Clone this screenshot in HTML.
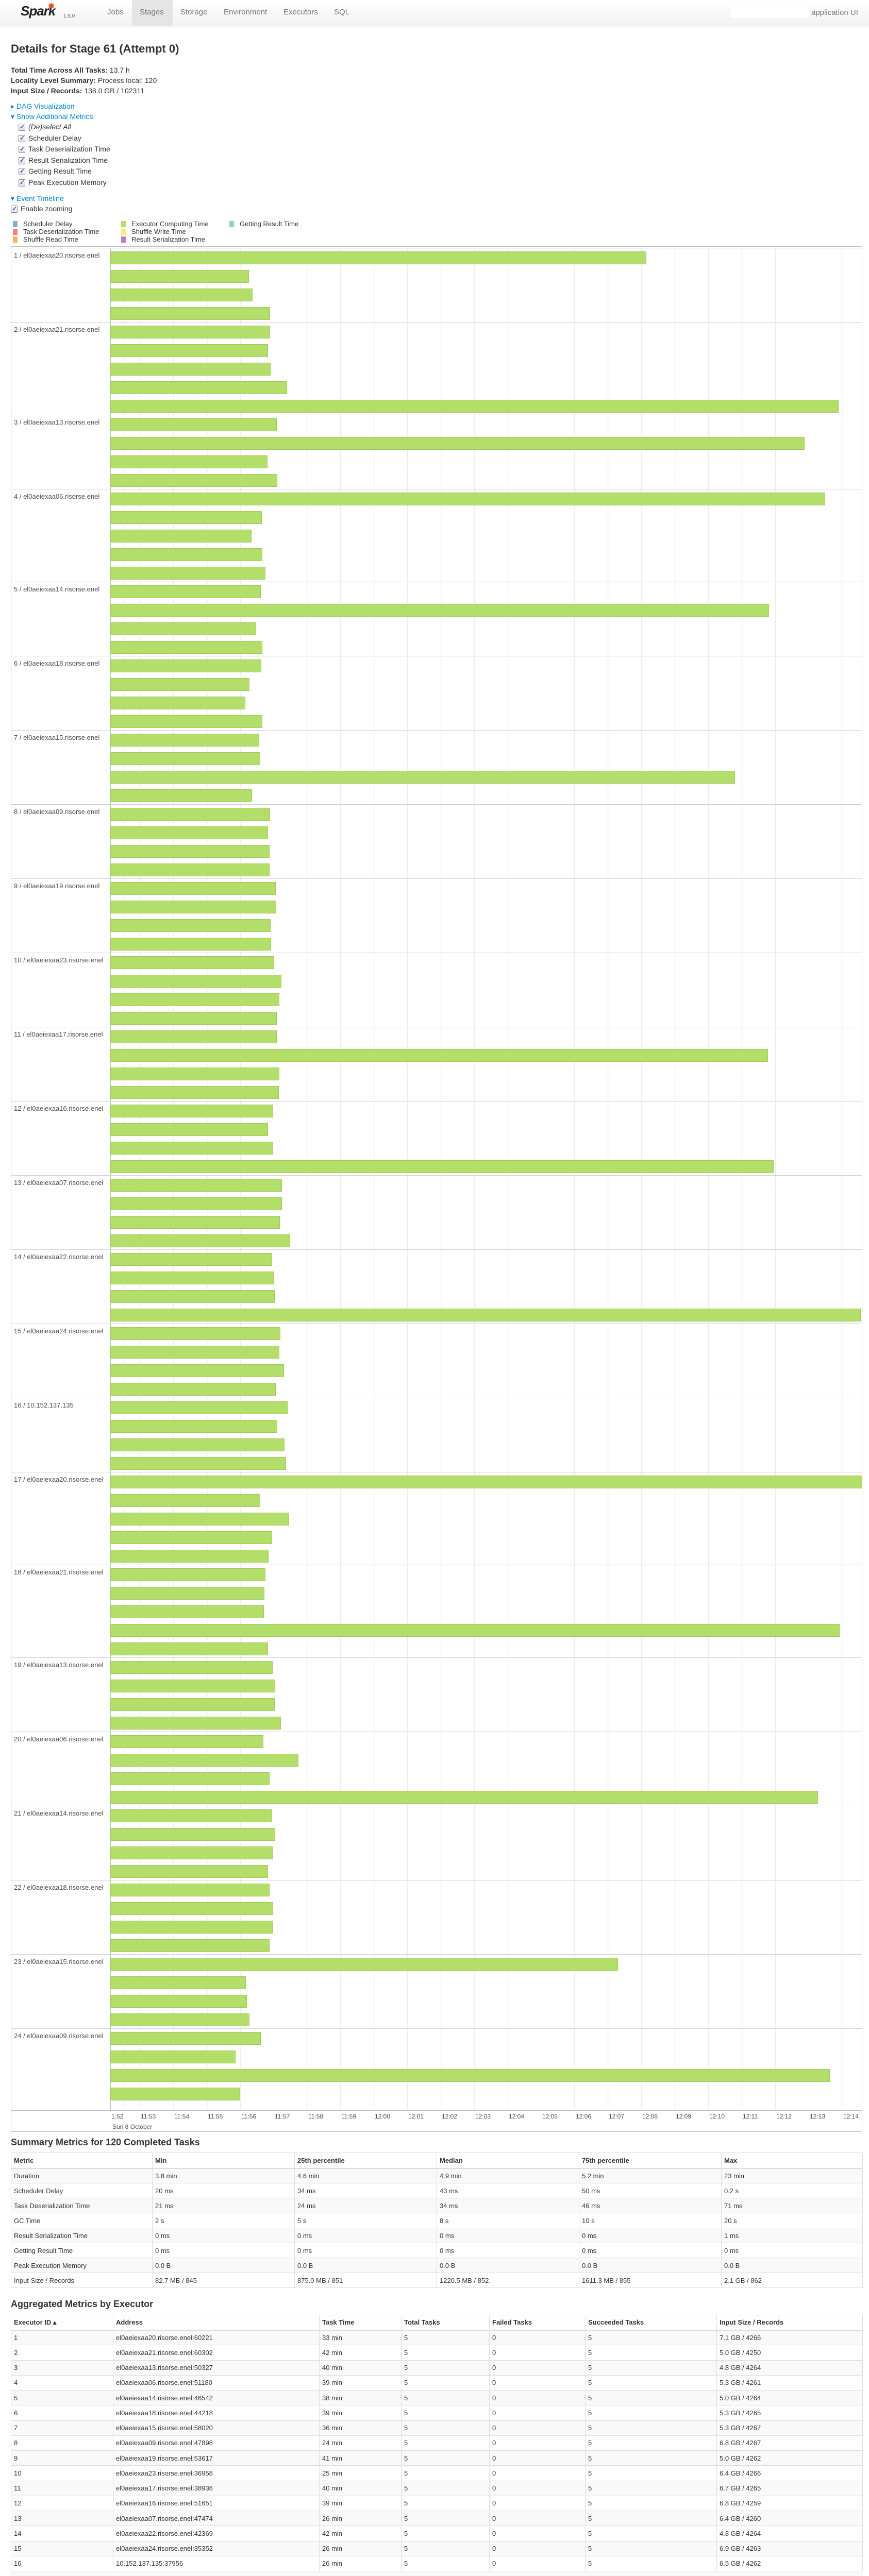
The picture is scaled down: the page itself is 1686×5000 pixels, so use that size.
<!DOCTYPE html>
<html><head><meta charset="utf-8">
<style>
*{box-sizing:border-box;margin:0;padding:0}
body{width:1686px;height:5000px;position:relative;overflow:hidden;background:#fff;font-family:"Liberation Sans",sans-serif;color:#333;font-size:14px}
.a{position:absolute;white-space:nowrap}
#nav{position:absolute;left:0;top:0;width:1686px;height:51px;background:linear-gradient(#fff,#f2f2f2);border-bottom:1px solid #d4d4d4;box-shadow:0 1px 6px rgba(0,0,0,.06)}
.ni{position:absolute;top:15px;font-size:15px;color:#777}
.cb{position:absolute;width:13px;height:14px;border:1px solid #888;border-radius:2px;background:linear-gradient(#fff,#dde);}
.cb:after{content:"✓";position:absolute;left:1px;top:-2px;font-size:12px;color:#33a;font-weight:bold}
.lk{color:#0088cc}
.lg{position:absolute;width:9px;height:12px}
.lt{position:absolute;font-size:13px;color:#333}
#chart{position:absolute;left:21px;top:478px;width:1652px;height:3660px;border:1px solid #bfbfbf;}
#grid{position:absolute;left:214px;top:481px;width:1459px;height:3616px;background:repeating-linear-gradient(to right,#e6e6e6 0 1px,transparent 1px 64.86px);background-position:56.3px 0;border-left:1px solid #bfbfbf}
.g{position:absolute;left:21px;width:1652px;border-top:1px solid #d0d0d0}
.g .l{position:absolute;left:6px;top:6px;font-size:13px;color:#4d4d4d}
.b{position:absolute;left:193px;height:25px;background:#b3de69;border:1px solid #9fc95b}
.tk{position:absolute;top:4101px;font-size:12px;color:#4d4d4d}
table{border-collapse:collapse;table-layout:fixed;position:absolute;left:21px;width:1652px;font-size:13px}
td,th{text-align:left;padding:0 5px;border:1px solid #ddd;white-space:nowrap;overflow:hidden}
th{font-weight:bold;border-bottom:2px solid #ddd}
tr.o td{background:#f9f9f9}
#t1 th{height:30px}#t1 td{height:29px}
#t2 th{height:29px}#t2 td{height:29.25px}
h3{position:absolute;left:21px;font-size:18px;font-weight:bold;color:#333}
</style></head><body>
<div id="nav">
 <div class="a" style="left:40px;top:6px;font-size:26px;font-weight:bold;font-style:italic;color:#222;letter-spacing:-1px">Spark</div>
 <div class="a" style="left:92px;top:2px;font-size:18px;color:#e25a1c">✸</div>
 <div class="a" style="left:123px;top:26px;font-size:10px;color:#666">1.6.0</div>
 <div style="position:absolute;left:256px;top:0;width:79px;height:50px;background:#e5e5e5"></div>
 <div class="ni" style="left:208px">Jobs</div>
 <div class="ni" style="left:271px">Stages</div>
 <div class="ni" style="left:350px">Storage</div>
 <div class="ni" style="left:434px">Environment</div>
 <div class="ni" style="left:550px">Executors</div>
 <div class="ni" style="left:648px">SQL</div>
 <div style="position:absolute;left:1417px;top:13px;width:152px;height:22px;background:#fff"></div>
 <div class="ni" style="left:1574px;top:16px">application UI</div>
</div>
<div class="a" style="left:21px;top:82px;font-size:22px;font-weight:bold;color:#333">Details for Stage 61 (Attempt 0)</div>
<div class="a" style="left:21px;top:128px"><b>Total Time Across All Tasks:</b> 13.7 h</div>
<div class="a" style="left:21px;top:148px"><b>Locality Level Summary:</b> Process local: 120</div>
<div class="a" style="left:21px;top:168px"><b>Input Size / Records:</b> 138.0 GB / 102311</div>
<div class="a lk" style="left:21px;top:198px;font-size:14px">▸ DAG Visualization</div>
<div class="a lk" style="left:21px;top:218px;font-size:14px">▾ Show Additional Metrics</div>
<div class="cb" style="left:36px;top:240px"></div><div class="a" style="left:55px;top:238px;font-style:italic">(De)select All</div>
<div class="cb" style="left:36px;top:262px"></div><div class="a" style="left:55px;top:260px">Scheduler Delay</div>
<div class="cb" style="left:36px;top:283px"></div><div class="a" style="left:55px;top:281px">Task Deserialization Time</div>
<div class="cb" style="left:36px;top:305px"></div><div class="a" style="left:55px;top:303px">Result Serialization Time</div>
<div class="cb" style="left:36px;top:326px"></div><div class="a" style="left:55px;top:324px">Getting Result Time</div>
<div class="cb" style="left:36px;top:348px"></div><div class="a" style="left:55px;top:346px">Peak Execution Memory</div>
<div class="a lk" style="left:21px;top:377px;font-size:14px">▾ Event Timeline</div>
<div class="cb" style="left:21px;top:399px"></div><div class="a" style="left:40px;top:397px">Enable zooming</div>
<div class="lg" style="left:25px;top:429px;background:#80b1d3"></div><div class="lt" style="left:45px;top:427px">Scheduler Delay</div>
<div class="lg" style="left:25px;top:444px;background:#fb8072"></div><div class="lt" style="left:45px;top:442px">Task Deserialization Time</div>
<div class="lg" style="left:25px;top:459px;background:#fdb462"></div><div class="lt" style="left:45px;top:457px">Shuffle Read Time</div>
<div class="lg" style="left:235px;top:429px;background:#b3de69"></div><div class="lt" style="left:255px;top:427px">Executor Computing Time</div>
<div class="lg" style="left:235px;top:444px;background:#ffed6f"></div><div class="lt" style="left:255px;top:442px">Shuffle Write Time</div>
<div class="lg" style="left:235px;top:459px;background:#bc80bd"></div><div class="lt" style="left:255px;top:457px">Result Serialization Time</div>
<div class="lg" style="left:445px;top:429px;background:#8dd3c7"></div><div class="lt" style="left:465px;top:427px">Getting Result Time</div>

<div id="chart"></div>
<div id="grid"></div>

<div class="g" style="top:481px;height:144px"><div class="l">1 / el0aeiexaa20.risorse.enel</div>
<div class="b" style="top:6px;width:1040px"></div><div class="b" style="top:42px;width:269px"></div><div class="b" style="top:78px;width:276px"></div><div class="b" style="top:114px;width:310px"></div></div>
<div class="g" style="top:625px;height:180px"><div class="l">2 / el0aeiexaa21.risorse.enel</div>
<div class="b" style="top:6px;width:310px"></div><div class="b" style="top:42px;width:306px"></div><div class="b" style="top:78px;width:311px"></div><div class="b" style="top:114px;width:343px"></div><div class="b" style="top:150px;width:1413px"></div></div>
<div class="g" style="top:805px;height:144px"><div class="l">3 / el0aeiexaa13.risorse.enel</div>
<div class="b" style="top:6px;width:323px"></div><div class="b" style="top:42px;width:1347px"></div><div class="b" style="top:78px;width:305px"></div><div class="b" style="top:114px;width:324px"></div></div>
<div class="g" style="top:949px;height:180px"><div class="l">4 / el0aeiexaa06.risorse.enel</div>
<div class="b" style="top:6px;width:1387px"></div><div class="b" style="top:42px;width:294px"></div><div class="b" style="top:78px;width:274px"></div><div class="b" style="top:114px;width:295px"></div><div class="b" style="top:150px;width:301px"></div></div>
<div class="g" style="top:1129px;height:144px"><div class="l">5 / el0aeiexaa14.risorse.enel</div>
<div class="b" style="top:6px;width:292px"></div><div class="b" style="top:42px;width:1278px"></div><div class="b" style="top:78px;width:282px"></div><div class="b" style="top:114px;width:295px"></div></div>
<div class="g" style="top:1273px;height:144px"><div class="l">6 / el0aeiexaa18.risorse.enel</div>
<div class="b" style="top:6px;width:293px"></div><div class="b" style="top:42px;width:270px"></div><div class="b" style="top:78px;width:262px"></div><div class="b" style="top:114px;width:295px"></div></div>
<div class="g" style="top:1417px;height:144px"><div class="l">7 / el0aeiexaa15.risorse.enel</div>
<div class="b" style="top:6px;width:289px"></div><div class="b" style="top:42px;width:291px"></div><div class="b" style="top:78px;width:1212px"></div><div class="b" style="top:114px;width:275px"></div></div>
<div class="g" style="top:1561px;height:144px"><div class="l">8 / el0aeiexaa09.risorse.enel</div>
<div class="b" style="top:6px;width:310px"></div><div class="b" style="top:42px;width:306px"></div><div class="b" style="top:78px;width:309px"></div><div class="b" style="top:114px;width:309px"></div></div>
<div class="g" style="top:1705px;height:144px"><div class="l">9 / el0aeiexaa19.risorse.enel</div>
<div class="b" style="top:6px;width:321px"></div><div class="b" style="top:42px;width:322px"></div><div class="b" style="top:78px;width:311px"></div><div class="b" style="top:114px;width:312px"></div></div>
<div class="g" style="top:1849px;height:144px"><div class="l">10 / el0aeiexaa23.risorse.enel</div>
<div class="b" style="top:6px;width:318px"></div><div class="b" style="top:42px;width:332px"></div><div class="b" style="top:78px;width:328px"></div><div class="b" style="top:114px;width:323px"></div></div>
<div class="g" style="top:1993px;height:144px"><div class="l">11 / el0aeiexaa17.risorse.enel</div>
<div class="b" style="top:6px;width:323px"></div><div class="b" style="top:42px;width:1276px"></div><div class="b" style="top:78px;width:328px"></div><div class="b" style="top:114px;width:327px"></div></div>
<div class="g" style="top:2137px;height:144px"><div class="l">12 / el0aeiexaa16.risorse.enel</div>
<div class="b" style="top:6px;width:316px"></div><div class="b" style="top:42px;width:306px"></div><div class="b" style="top:78px;width:315px"></div><div class="b" style="top:114px;width:1287px"></div></div>
<div class="g" style="top:2281px;height:144px"><div class="l">13 / el0aeiexaa07.risorse.enel</div>
<div class="b" style="top:6px;width:333px"></div><div class="b" style="top:42px;width:333px"></div><div class="b" style="top:78px;width:329px"></div><div class="b" style="top:114px;width:349px"></div></div>
<div class="g" style="top:2425px;height:144px"><div class="l">14 / el0aeiexaa22.risorse.enel</div>
<div class="b" style="top:6px;width:314px"></div><div class="b" style="top:42px;width:317px"></div><div class="b" style="top:78px;width:319px"></div><div class="b" style="top:114px;width:1456px"></div></div>
<div class="g" style="top:2569px;height:144px"><div class="l">15 / el0aeiexaa24.risorse.enel</div>
<div class="b" style="top:6px;width:330px"></div><div class="b" style="top:42px;width:328px"></div><div class="b" style="top:78px;width:337px"></div><div class="b" style="top:114px;width:321px"></div></div>
<div class="g" style="top:2713px;height:144px"><div class="l">16 / 10.152.137.135</div>
<div class="b" style="top:6px;width:344px"></div><div class="b" style="top:42px;width:324px"></div><div class="b" style="top:78px;width:338px"></div><div class="b" style="top:114px;width:341px"></div></div>
<div class="g" style="top:2857px;height:180px"><div class="l">17 / el0aeiexaa20.risorse.enel</div>
<div class="b" style="top:6px;width:1459px"></div><div class="b" style="top:42px;width:291px"></div><div class="b" style="top:78px;width:347px"></div><div class="b" style="top:114px;width:314px"></div><div class="b" style="top:150px;width:307px"></div></div>
<div class="g" style="top:3037px;height:180px"><div class="l">18 / el0aeiexaa21.risorse.enel</div>
<div class="b" style="top:6px;width:301px"></div><div class="b" style="top:42px;width:299px"></div><div class="b" style="top:78px;width:298px"></div><div class="b" style="top:114px;width:1415px"></div><div class="b" style="top:150px;width:306px"></div></div>
<div class="g" style="top:3217px;height:144px"><div class="l">19 / el0aeiexaa13.risorse.enel</div>
<div class="b" style="top:6px;width:315px"></div><div class="b" style="top:42px;width:320px"></div><div class="b" style="top:78px;width:319px"></div><div class="b" style="top:114px;width:331px"></div></div>
<div class="g" style="top:3361px;height:144px"><div class="l">20 / el0aeiexaa06.risorse.enel</div>
<div class="b" style="top:6px;width:297px"></div><div class="b" style="top:42px;width:365px"></div><div class="b" style="top:78px;width:309px"></div><div class="b" style="top:114px;width:1373px"></div></div>
<div class="g" style="top:3505px;height:144px"><div class="l">21 / el0aeiexaa14.risorse.enel</div>
<div class="b" style="top:6px;width:314px"></div><div class="b" style="top:42px;width:320px"></div><div class="b" style="top:78px;width:315px"></div><div class="b" style="top:114px;width:306px"></div></div>
<div class="g" style="top:3649px;height:144px"><div class="l">22 / el0aeiexaa18.risorse.enel</div>
<div class="b" style="top:6px;width:309px"></div><div class="b" style="top:42px;width:316px"></div><div class="b" style="top:78px;width:315px"></div><div class="b" style="top:114px;width:309px"></div></div>
<div class="g" style="top:3793px;height:144px"><div class="l">23 / el0aeiexaa15.risorse.enel</div>
<div class="b" style="top:6px;width:985px"></div><div class="b" style="top:42px;width:263px"></div><div class="b" style="top:78px;width:265px"></div><div class="b" style="top:114px;width:270px"></div></div>
<div class="g" style="top:3937px;height:160px;border-bottom:1px solid #bfbfbf"><div class="l">24 / el0aeiexaa09.risorse.enel</div>
<div class="b" style="top:6px;width:292px"></div><div class="b" style="top:42px;width:243px"></div><div class="b" style="top:78px;width:1396px"></div><div class="b" style="top:114px;width:251px"></div></div>

<div class="tk" style="left:216px">1:52</div>
<div class="tk" style="left:273px">11:53</div><div class="tk" style="left:338px">11:54</div><div class="tk" style="left:403px">11:55</div><div class="tk" style="left:468px">11:56</div><div class="tk" style="left:533px">11:57</div><div class="tk" style="left:598px">11:58</div><div class="tk" style="left:662px">11:59</div><div class="tk" style="left:727px">12:00</div><div class="tk" style="left:792px">12:01</div><div class="tk" style="left:857px">12:02</div><div class="tk" style="left:922px">12:03</div><div class="tk" style="left:987px">12:04</div><div class="tk" style="left:1052px">12:05</div><div class="tk" style="left:1117px">12:06</div><div class="tk" style="left:1181px">12:07</div><div class="tk" style="left:1246px">12:08</div><div class="tk" style="left:1311px">12:09</div><div class="tk" style="left:1376px">12:10</div><div class="tk" style="left:1441px">12:11</div><div class="tk" style="left:1506px">12:12</div><div class="tk" style="left:1571px">12:13</div><div class="tk" style="left:1636px">12:14</div>
<div class="tk" style="left:218px;top:4121px">Sun 8 October</div>

<h3 style="top:4148px">Summary Metrics for 120 Completed Tasks</h3>
<table id="t1" style="top:4178px">
<colgroup><col style="width:274px"><col style="width:276px"><col style="width:276px"><col style="width:276px"><col style="width:276px"><col style="width:274px"></colgroup>
<tr><th>Metric</th><th>Min</th><th>25th percentile</th><th>Median</th><th>75th percentile</th><th>Max</th></tr>
<tr class="o"><td>Duration</td><td>3.8 min</td><td>4.6 min</td><td>4.9 min</td><td>5.2 min</td><td>23 min</td></tr>
<tr><td>Scheduler Delay</td><td>20 ms</td><td>34 ms</td><td>43 ms</td><td>50 ms</td><td>0.2 s</td></tr>
<tr class="o"><td>Task Deserialization Time</td><td>21 ms</td><td>24 ms</td><td>34 ms</td><td>46 ms</td><td>71 ms</td></tr>
<tr><td>GC Time</td><td>2 s</td><td>5 s</td><td>8 s</td><td>10 s</td><td>20 s</td></tr>
<tr class="o"><td>Result Serialization Time</td><td>0 ms</td><td>0 ms</td><td>0 ms</td><td>0 ms</td><td>1 ms</td></tr>
<tr><td>Getting Result Time</td><td>0 ms</td><td>0 ms</td><td>0 ms</td><td>0 ms</td><td>0 ms</td></tr>
<tr class="o"><td>Peak Execution Memory</td><td>0.0 B</td><td>0.0 B</td><td>0.0 B</td><td>0.0 B</td><td>0.0 B</td></tr>
<tr><td>Input Size / Records</td><td>82.7 MB / 845</td><td>875.0 MB / 851</td><td>1220.5 MB / 852</td><td>1611.3 MB / 855</td><td>2.1 GB / 862</td></tr>
</table>

<h3 style="top:4462px">Aggregated Metrics by Executor</h3>
<table id="t2" style="top:4493px">
<colgroup><col style="width:198px"><col style="width:400px"><col style="width:159px"><col style="width:171px"><col style="width:186px"><col style="width:255px"><col style="width:283px"></colgroup>
<tr><th>Executor ID ▴</th><th>Address</th><th>Task Time</th><th>Total Tasks</th><th>Failed Tasks</th><th>Succeeded Tasks</th><th>Input Size / Records</th></tr>
<tr class="o"><td>1</td><td>el0aeiexaa20.risorse.enel:60221</td><td>33 min</td><td>5</td><td>0</td><td>5</td><td>7.1 GB / 4266</td></tr>
<tr><td>2</td><td>el0aeiexaa21.risorse.enel:60302</td><td>42 min</td><td>5</td><td>0</td><td>5</td><td>5.0 GB / 4250</td></tr>
<tr class="o"><td>3</td><td>el0aeiexaa13.risorse.enel:50327</td><td>40 min</td><td>5</td><td>0</td><td>5</td><td>4.8 GB / 4264</td></tr>
<tr><td>4</td><td>el0aeiexaa06.risorse.enel:51180</td><td>39 min</td><td>5</td><td>0</td><td>5</td><td>5.3 GB / 4261</td></tr>
<tr class="o"><td>5</td><td>el0aeiexaa14.risorse.enel:46542</td><td>38 min</td><td>5</td><td>0</td><td>5</td><td>5.0 GB / 4264</td></tr>
<tr><td>6</td><td>el0aeiexaa18.risorse.enel:44218</td><td>39 min</td><td>5</td><td>0</td><td>5</td><td>5.3 GB / 4265</td></tr>
<tr class="o"><td>7</td><td>el0aeiexaa15.risorse.enel:58020</td><td>36 min</td><td>5</td><td>0</td><td>5</td><td>5.3 GB / 4267</td></tr>
<tr><td>8</td><td>el0aeiexaa09.risorse.enel:47898</td><td>24 min</td><td>5</td><td>0</td><td>5</td><td>6.8 GB / 4267</td></tr>
<tr class="o"><td>9</td><td>el0aeiexaa19.risorse.enel:53617</td><td>41 min</td><td>5</td><td>0</td><td>5</td><td>5.0 GB / 4262</td></tr>
<tr><td>10</td><td>el0aeiexaa23.risorse.enel:36958</td><td>25 min</td><td>5</td><td>0</td><td>5</td><td>6.4 GB / 4266</td></tr>
<tr class="o"><td>11</td><td>el0aeiexaa17.risorse.enel:38936</td><td>40 min</td><td>5</td><td>0</td><td>5</td><td>6.7 GB / 4265</td></tr>
<tr><td>12</td><td>el0aeiexaa16.risorse.enel:51651</td><td>39 min</td><td>5</td><td>0</td><td>5</td><td>6.8 GB / 4259</td></tr>
<tr class="o"><td>13</td><td>el0aeiexaa07.risorse.enel:47474</td><td>26 min</td><td>5</td><td>0</td><td>5</td><td>6.4 GB / 4260</td></tr>
<tr><td>14</td><td>el0aeiexaa22.risorse.enel:42369</td><td>42 min</td><td>5</td><td>0</td><td>5</td><td>4.8 GB / 4264</td></tr>
<tr class="o"><td>15</td><td>el0aeiexaa24.risorse.enel:35352</td><td>26 min</td><td>5</td><td>0</td><td>5</td><td>6.9 GB / 4263</td></tr>
<tr><td>16</td><td>10.152.137.135:37956</td><td>26 min</td><td>5</td><td>0</td><td>5</td><td>6.5 GB / 4262</td></tr>
</table>
<div style="position:absolute;left:21px;top:4991px;width:1652px;height:9px;background:#f9f9f9;border-left:1px solid #ddd;border-right:1px solid #ddd"></div>
</body></html>
